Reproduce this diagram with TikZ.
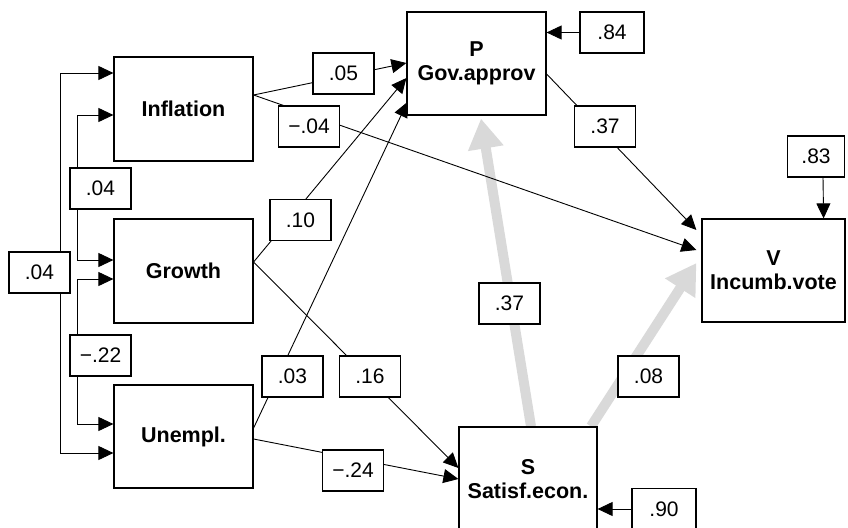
\documentclass[tikz,border=0pt]{standalone}
\usepackage{fontspec}
\setmainfont{Liberation Sans}
\usetikzlibrary{arrows.meta,calc}
\definecolor{grayarrow}{RGB}{217,217,217}
\begin{document}
\begin{tikzpicture}[x=1pt,y=-1pt,
  box/.style={draw,line width=1.2pt,fill=white,minimum width=139pt,minimum height=104pt,inner sep=0pt,align=center,font=\fontsize{21.5}{24}\selectfont\bfseries},
  lab/.style={draw,line width=1.2pt,fill=white,minimum width=61pt,minimum height=41pt,inner sep=0pt,font=\fontsize{21}{24}\selectfont},
  con/.style={line width=0.9pt,-{Triangle[length=15pt,width=14pt]}},
  dbl/.style={line width=0.9pt,{Triangle[length=15pt,width=14pt]}-{Triangle[length=15pt,width=14pt]}},
  big/.style={line width=10pt,draw=grayarrow,-{Triangle[length=30pt,width=34pt]}}]
\useasboundingbox (0,0) rectangle (848,527);
\clip (0,0) rectangle (848,527);

% main boxes (placed first for anchors, redrawn on top later)
\path
  node[box] (inf) at (183.5,109) {Inflation}
  node[box] (gro) at (183.5,271) {Growth}
  node[box,minimum height=103pt] (une) at (183.5,436.5) {Unempl.}
  node[box,minimum height=103pt] (P) at (476.5,63.5) {P\\Gov.approv}
  node[box,minimum width=143pt,minimum height=103pt] (V) at (773.5,270.5) {V\\Incumb.vote}
  node[box,minimum width=138pt] (S) at (528,479) {S\\Satisf.econ.};

% error term boxes
\path
  node[lab,minimum width=64pt] (e84) at (612,32.5) {.84}
  node[lab,minimum width=57pt] (e83) at (816,156.5) {.83}
  node[lab,minimum width=64pt] (e90) at (664,509) {.90};

% gray paths
\draw[big] ($(S.north)+(3,0)$) -- ($(P.south)+(4.5,3)$);
\draw[big] ($(S.north)+(63,0)$) -- ($(V.west)+(-5,-7.5)$);

% black paths
\draw[con] ($(inf.east)+(0,-14)$) -- ($(P.west)+(0,-0.5)$);
\draw[con] ($(inf.east)+(0,-14)$) -- ($(V.west)+(-5,-20.5)$);
\draw[con] ($(gro.east)+(0,-9)$) -- ($(P.west)+(0,14.5)$);
\draw[con] ($(gro.east)+(0,-9)$) -- ($(S.west)+(0,-11)$);
\draw[con] ($(une.east)+(0,-8.5)$) -- ($(P.west)+(1,38.5)$);
\draw[con] ($(une.east)+(0,2.5)$) -- (S.west);
\draw[con] ($(P.east)+(0,10.5)$) -- ($(V.west)+(-5,-40.5)$);
\draw[con] (e84.west) -- (P.east |- e84.west);
\draw[con] ($(e83.south)+(7,0)$) -- ($(V.north east)+(-22,0)$);
\draw[con] (e90.west) -- (S.east |- e90.west);

% correlations
\draw[dbl] ($(inf.west)+(0,-36)$) -- ++(-53,0) |- ($(une.west)+(0,16.5)$);
\draw[dbl] ($(inf.west)+(0,6)$) -- ++(-36,0) |- ($(gro.west)+(0,-11)$);
\draw[dbl] ($(gro.west)+(0,8)$) -- ++(-36,0) |- ($(une.west)+(0,-12.5)$);

% redraw main boxes on top
\path
  node[box] at (inf) {Inflation}
  node[box] at (gro) {Growth}
  node[box,minimum height=103pt] at (une) {Unempl.}
  node[box,minimum height=103pt] at (P) {P\\Gov.approv}
  node[box,minimum width=143pt,minimum height=103pt] at (V) {V\\Incumb.vote}
  node[box,minimum width=138pt] at (S) {S\\Satisf.econ.};

% path coefficient labels
\path
  node[lab] (l05) at (343.5,73.5) {.05}
  node[lab] (lm04) at (309,126.5) {−.04}
  node[lab] (l37a) at (605,126.5) {.37}
  node[lab] (l10) at (300.5,220) {.10}
  node[lab] (l03) at (292.5,376.5) {.03}
  node[lab] (l16) at (370,376.5) {.16}
  node[lab] (lm24) at (353,470.5) {−.24}
  node[lab] (l37b) at (509.5,303.5) {.37}
  node[lab] (l08) at (648.5,376.5) {.08}
  node[lab] (c04a) at (39.5,272.5) {.04}
  node[lab] (c04b) at (100.5,188.5) {.04}
  node[lab] (cm22) at (100.5,355.5) {−.22};
\end{tikzpicture}
\end{document}
